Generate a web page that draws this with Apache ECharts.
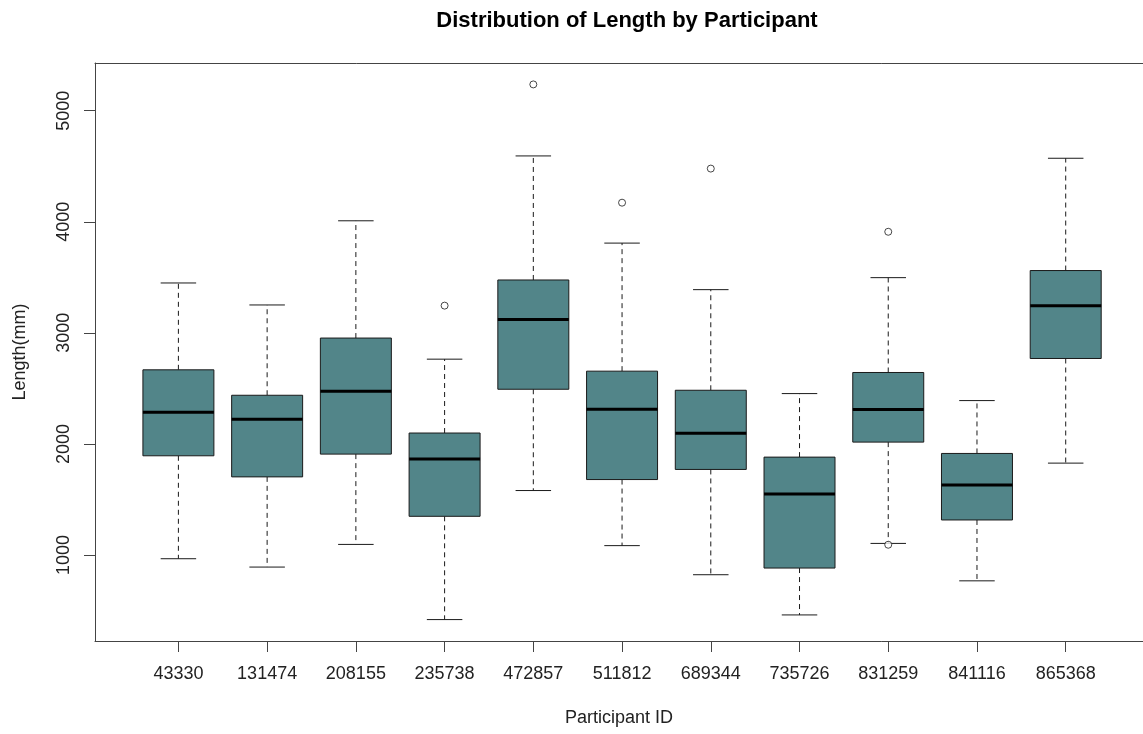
<!DOCTYPE html>
<html>
<head>
<meta charset="utf-8">
<title>Distribution of Length by Participant</title>
<script src="https://cdn.jsdelivr.net/npm/echarts@6/dist/echarts.min.js"></script>
<style>
  html, body { margin: 0; padding: 0; background: #ffffff; }
  #chart { width: 1143px; height: 734px; }
</style>
</head>
<body>
<div id="chart"></div>
<script>
// Participant IDs along the x axis
const participants = ['43330', '131474', '208155', '235738', '472857', '511812',
                      '689344', '735726', '831259', '841116', '865368'];

// Five-number summaries per participant (whisker ends, quartiles, median), in mm
const lowerWhisker = [966, 891, 1095, 418, 1580, 1084, 822, 460, 1104, 767, 1827];
const q1Values     = [1893, 1703, 1908, 1348, 2492, 1679, 1770, 882, 2016, 1315, 2769];
const medians      = [2284, 2221, 2474, 1863, 3121, 2312, 2095, 1550, 2309, 1631, 3245];
const q3Values     = [2667, 2438, 2953, 2098, 3476, 2655, 2483, 1881, 2643, 1914, 3561];
const upperWhisker = [3449, 3251, 4009, 2763, 4593, 3808, 3389, 2453, 3497, 2390, 4572];

// Points beyond the whiskers: participant index (1-based) and length
const outlierIndex  = [4, 5, 6, 7, 9, 9];
const outlierValues = [3245, 5237, 4172, 4479, 3910, 1092];

// Y tick marks
const yTicks = [1000, 2000, 3000, 4000, 5000];

const boxData = participants.map((_, i) => [
  i + 1, lowerWhisker[i], q1Values[i], medians[i], q3Values[i], upperWhisker[i]
]);
const outlierData = outlierIndex.map((p, i) => [p, outlierValues[i]]);
const xPositions = participants.map((_, i) => i + 1);

// Y range padded 4% beyond the data on each side
const allValues = lowerWhisker.concat(upperWhisker, outlierValues);
const dMin = Math.min(...allValues), dMax = Math.max(...allValues);
const pad = (dMax - dMin) * 0.04;

// X range: 4% padding on the left; the plot region runs off the right edge of the canvas
const GRID_LEFT = 95;
const UNIT_PX = 88.73;
const xMin = 0.5 - participants.length * 0.04;
const xMax = xMin + (1143 - GRID_LEFT) / UNIT_PX;

const FONT = '"Liberation Sans", Arial, sans-serif';
const BOX_FILL = '#528589';
const INK = '#1a1a1a';
const FRAME = '#444';

function renderBox(params, api) {
  const x = api.value(0);
  const pLow = api.coord([x, api.value(1)]);
  const pQ1  = api.coord([x, api.value(2)]);
  const pMed = api.coord([x, api.value(3)]);
  const pQ3  = api.coord([x, api.value(4)]);
  const pUp  = api.coord([x, api.value(5)]);
  const halfW = api.size([0.8, 0])[0] / 2;
  const capW = halfW / 2;
  const cx = pMed[0];
  const dash = { stroke: INK, lineWidth: 1, lineDash: [5, 4] };
  const solid = { stroke: INK, lineWidth: 1 };
  return {
    type: 'group',
    children: [
      { type: 'line', shape: { x1: cx, y1: pQ3[1], x2: cx, y2: pUp[1] }, style: dash },
      { type: 'line', shape: { x1: cx, y1: pQ1[1], x2: cx, y2: pLow[1] }, style: dash },
      { type: 'line', shape: { x1: cx - capW, y1: pUp[1], x2: cx + capW, y2: pUp[1] }, style: solid },
      { type: 'line', shape: { x1: cx - capW, y1: pLow[1], x2: cx + capW, y2: pLow[1] }, style: solid },
      { type: 'rect',
        shape: { x: cx - halfW, y: pQ3[1], width: halfW * 2, height: pQ1[1] - pQ3[1] },
        style: { fill: BOX_FILL, stroke: INK, lineWidth: 1 } },
      { type: 'line', shape: { x1: cx - halfW, y1: pMed[1], x2: cx + halfW, y2: pMed[1] },
        style: { stroke: '#000', lineWidth: 3 } }
    ]
  };
}

const chart = echarts.init(document.getElementById('chart'), null, { renderer: 'canvas' });
chart.setOption({
  animation: false,
  backgroundColor: '#ffffff',
  title: {
    text: 'Distribution of Length by Participant',
    left: 622, textAlign: 'center', top: 5,
    textStyle: { fontFamily: FONT, fontSize: 22, fontWeight: 'bold', color: '#000' }
  },
  grid: { left: GRID_LEFT, top: 63, right: 0, height: 578, show: false },
  xAxis: [
    {
      type: 'value',
      min: xMin,
      max: xMax,
      name: 'Participant ID',
      nameLocation: 'middle',
      nameGap: 68,
      nameTextStyle: { fontFamily: FONT, fontSize: 18, color: '#222' },
      axisLine: { show: true, onZero: false, lineStyle: { color: FRAME, width: 1 } },
      splitLine: { show: false },
      axisTick: {
        show: true, length: 11,
        customValues: xPositions,
        lineStyle: { color: FRAME, width: 1 }
      },
      axisLabel: {
        customValues: xPositions,
        margin: 24,
        fontFamily: FONT, fontSize: 18, color: '#222',
        formatter: v => participants[Math.round(v) - 1] || ''
      }
    },
    {
      // top edge of the plot frame
      type: 'value',
      position: 'top',
      min: xMin,
      max: xMax,
      axisLine: { show: true, onZero: false, lineStyle: { color: FRAME, width: 1 } },
      axisTick: { show: false },
      axisLabel: { show: false },
      splitLine: { show: false }
    }
  ],
  yAxis: {
    type: 'value',
    min: dMin - pad,
    max: dMax + pad,
    name: 'Length(mm)',
    nameLocation: 'middle',
    nameGap: 66,
    nameTextStyle: { fontFamily: FONT, fontSize: 18, color: '#222' },
    axisLine: { show: true, onZero: false, lineStyle: { color: FRAME, width: 1 } },
    splitLine: { show: false },
    axisTick: {
      show: true, length: 11,
      customValues: yTicks,
      lineStyle: { color: FRAME, width: 1 }
    },
    axisLabel: {
      customValues: yTicks,
      rotate: 90,
      margin: 22,
      fontFamily: FONT, fontSize: 18, color: '#222',
      formatter: v => String(v)
    }
  },
  series: [
    {
      type: 'custom',
      name: 'Length',
      renderItem: renderBox,
      encode: { x: 0, y: [1, 2, 3, 4, 5] },
      data: boxData,
      clip: true,
      z: 2
    },
    {
      type: 'scatter',
      name: 'Outliers',
      data: outlierData,
      symbol: 'circle',
      symbolSize: 7,
      itemStyle: { color: '#ffffff', borderColor: INK, borderWidth: 1 },
      z: 3
    }
  ]
});
</script>
</body>
</html>
